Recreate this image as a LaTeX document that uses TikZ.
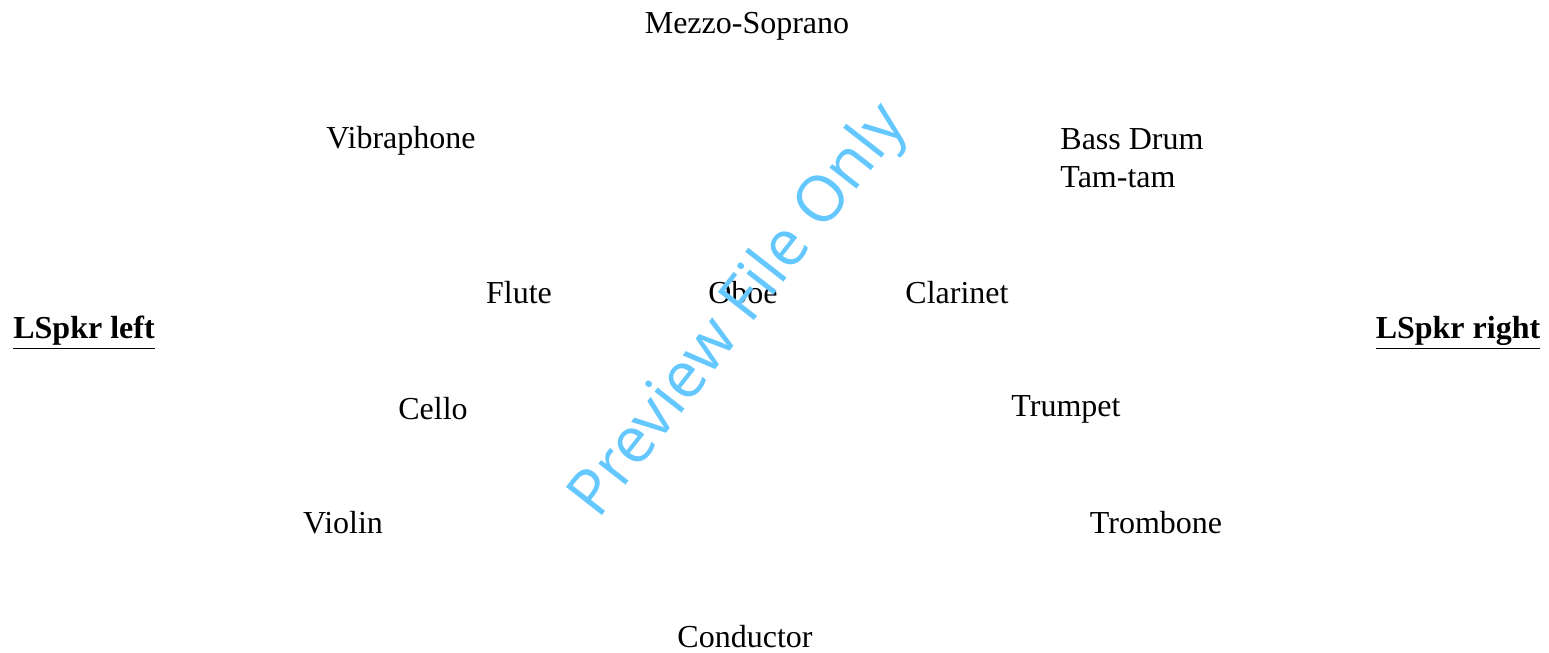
\documentclass[tikz,border=0pt]{standalone}
\usepackage{fontspec}
\setmainfont{Liberation Serif}
\newfontfamily\wmfont{Open Sans}
\usepackage{xcolor}
\definecolor{wmblue}{RGB}{100,200,255}
\usepackage{tikz}

\begin{document}
\begin{tikzpicture}[x=0.5pt,y=-0.5pt]
		\tikzstyle{player}=[inner sep=0pt,font=\fontsize{16}{19}\selectfont]
		\tikzstyle{speaker}=[player,font=\fontsize{16}{19}\selectfont\bfseries]
		\useasboundingbox (0,0) rectangle (1549,653);

		\node[player] (mezzo) at (747,26) {Mezzo-Soprano};
		\node[player] (vibes) at (401,141) {Vibraphone};
		\node[player,anchor=west,align=left] (drums) at (1060,158) {Bass Drum\\Tam-tam};

		\node[player] (flute) at (519,293) {Flute};
		\node[player] (oboe) at (743,293) {Oboe};
		\node[player] (clarinet) at (957,293) {Clarinet};

		\node[speaker] (lspkrl) at (84,333) {\underline{LSpkr left}};
		\node[speaker] (lspkrr) at (1458,333) {\underline{LSpkr right}};

		\node[player] (cello) at (433,409) {Cello};
		\node[player] (trumpet) at (1066,409) {Trumpet};
		\node[player] (violin) at (343,523) {Violin};
		\node[player] (trombone) at (1156,523) {Trombone};

		\node[player] (conductor) at (745,637) {Conductor};

		% watermark
		\node[text=wmblue,font=\wmfont\fontsize{32}{38}\selectfont,rotate=52] (preview) at (740,312) {Preview File Only};
	\end{tikzpicture}
\end{document}
